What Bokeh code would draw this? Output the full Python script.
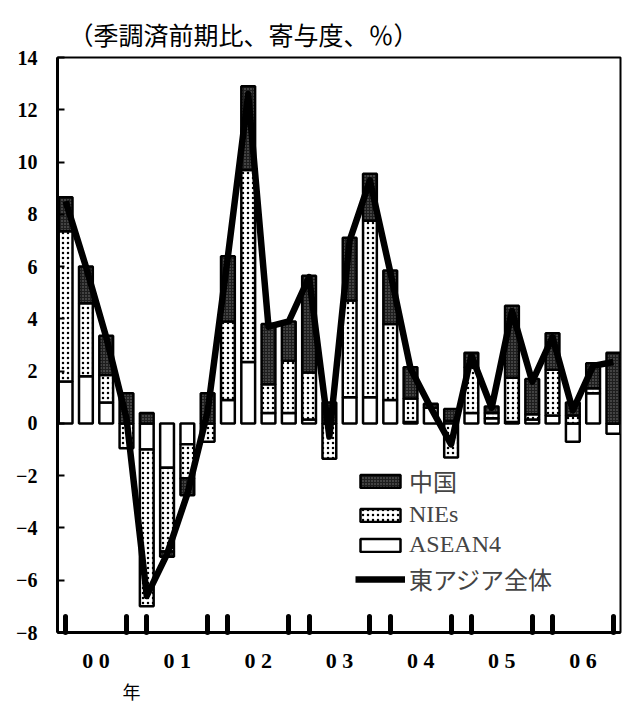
import numpy as np
from bokeh.plotting import figure
from bokeh.models import FixedTicker, Legend, LegendItem, Title
from bokeh.embed import file_html
from bokeh.resources import INLINE

# ---- data (2000Q1 .. 2006Q4), contribution to q/q growth, % ----
quarters = [f"{y}Q{q}" for y in range(2000, 2007) for q in range(1, 5)]
asean4 = [1.6, 1.8, 0.8, 0.0, -1.0, -1.7, -0.8, 0.0, 0.9, 2.35, 0.4, 0.4, 0.15, 0.0,
          1.0, 1.0, 0.9, 0.05, 0.6, 0.1, 0.4, 0.2, 0.05, 0.15, 0.3, -0.7, 1.15, -0.4]
nies = [5.75, 2.8, 1.05, -0.95, -6.0, -3.2, -1.3, -0.7, 3.0, 7.35, 1.1, 2.0, 1.8, -1.35,
        3.7, 6.75, 2.9, 0.9, 0.0, -1.3, 1.75, 0.2, 1.7, 0.2, 1.75, 0.3, 0.2, 0.0]
china = [1.3, 1.4, 1.5, 1.15, 0.4, -0.2, -0.65, 1.15, 2.5, 3.2, 2.3, 1.5, 3.7, 0.8,
         2.4, 1.8, 2.05, 1.2, 0.15, 0.45, 0.55, 0.25, 2.75, 1.35, 1.4, 0.5, 0.95, 2.7]
total = [8.5, 6.0, 3.3, 0.2, -6.6, -5.0, -2.7, 0.45, 6.4, 12.6, 3.7, 3.9, 5.6, -0.5,
         7.0, 9.3, 5.8, 2.1, 0.6, -0.8, 2.6, 0.6, 4.3, 1.6, 3.3, 0.5, 2.2, 2.35]
year_labels = ["0 0", "0 1", "0 2", "0 3", "0 4", "0 5", "0 6"]
y_ticks = [-8, -6, -4, -2, 0, 2, 4, 6, 8, 10, 12, 14]

x = np.arange(len(quarters), dtype=float)

# signed stacking: ASEAN4 nearest zero, then NIEs, then China
pos = np.zeros(len(x))
neg = np.zeros(len(x))
stacks = {}
for name, vals in [("asean", asean4), ("nies", nies), ("china", china)]:
    v = np.array(vals, dtype=float)
    bottom = np.where(v >= 0, pos, neg)
    top = bottom + v
    pos = np.where(v >= 0, top, pos)
    neg = np.where(v < 0, top, neg)
    stacks[name] = (bottom, top)

cjk = "'Noto Sans CJK JP', sans-serif"
num_font = "'Liberation Serif', 'Times New Roman', serif"

p = figure(width=624, height=703, output_backend="svg", toolbar_location=None,
           x_range=(-0.4, 27.35), y_range=(-8, 14),
           min_border_left=57, min_border_right=4, min_border_top=57,
           min_border_bottom=65)
p.xgrid.visible = False
p.ygrid.visible = False
p.outline_line_color = "black"
p.outline_line_width = 2
p.background_fill_color = "white"
p.border_fill_color = "white"

p.title.text = "（季調済前期比、寄与度、％）"
p.title.text_font = cjk
p.title.text_font_size = "25px"
p.title.text_font_style = "normal"
p.title.text_color = "black"
p.title.align = "left"
p.title.offset = 11
p.title.standoff = 12

bw = 0.68
r_asean = p.vbar(x=x, bottom=stacks["asean"][0], top=stacks["asean"][1], width=bw,
                 fill_color="white", line_color="black", line_width=2.5)
r_nies = p.vbar(x=x, bottom=stacks["nies"][0], top=stacks["nies"][1], width=bw,
                fill_color="white", line_color="black", line_width=2.5,
                hatch_pattern="dot", hatch_color="black", hatch_scale=5, hatch_weight=2)
r_china = p.vbar(x=x, bottom=stacks["china"][0], top=stacks["china"][1], width=bw,
                 fill_color="#1e1e1e", line_color="black", line_width=2.5,
                 hatch_pattern="dot", hatch_color="#7a7a7a", hatch_scale=3, hatch_weight=1)
r_line = p.line(x=x, y=total, line_color="black", line_width=6.5, line_join="round")

# axes
p.yaxis.ticker = FixedTicker(ticks=y_ticks)
p.yaxis.major_label_overrides = {t: (f"\u2212{abs(t)}" if t < 0 else str(t)) for t in y_ticks}
p.yaxis.major_label_text_font = num_font
p.yaxis.major_label_text_font_style = "bold"
p.yaxis.major_label_text_font_size = "20px"
p.yaxis.major_label_text_color = "black"
p.yaxis.major_tick_in = 7
p.yaxis.major_tick_out = 0
p.yaxis.major_tick_line_width = 2
p.yaxis.minor_tick_line_color = None
p.yaxis.axis_line_width = 3
p.yaxis.major_label_standoff = 20

label_pos = [1.5 + 4 * i for i in range(len(year_labels))]
tick_marks = [0, 3, 4, 7, 8, 11, 12, 15, 16, 19, 20, 23, 24, 27]
p.xaxis.ticker = FixedTicker(ticks=label_pos, minor_ticks=tick_marks)
p.xaxis.major_label_overrides = {lp: lab for lp, lab in zip(label_pos, year_labels)}
p.xaxis.major_tick_in = 0
p.xaxis.major_tick_out = 0
p.xaxis.minor_tick_in = 16
p.xaxis.minor_tick_out = 0
p.xaxis.minor_tick_line_width = 5
p.xaxis.minor_tick_line_cap = "round"
p.xaxis.axis_line_width = 3
p.xaxis.major_label_text_font = num_font
p.xaxis.major_label_text_font_style = "bold"
p.xaxis.major_label_text_font_size = "22px"
p.xaxis.major_label_text_color = "black"
p.xaxis.major_label_standoff = 15

nen = Title(text="年", text_font=cjk, text_font_size="18px", text_font_style="normal",
            text_color="black", align="left", offset=65, standoff=0)
p.add_layout(nen, "below")

legend = Legend(items=[LegendItem(label="中国", renderers=[r_china]),
                       LegendItem(label="NIEs", renderers=[r_nies]),
                       LegendItem(label="ASEAN4", renderers=[r_asean]),
                       LegendItem(label="東アジア全体", renderers=[r_line])],
                location=(298, 36), glyph_width=50, glyph_height=16,
                label_text_font="'Liberation Serif', 'Noto Sans CJK JP', serif",
                label_text_font_size="24px", label_standoff=4, spacing=3,
                padding=0, margin=0, border_line_color=None,
                background_fill_alpha=0)
p.add_layout(legend)

open("out.html", "w").write(file_html(p, INLINE))
